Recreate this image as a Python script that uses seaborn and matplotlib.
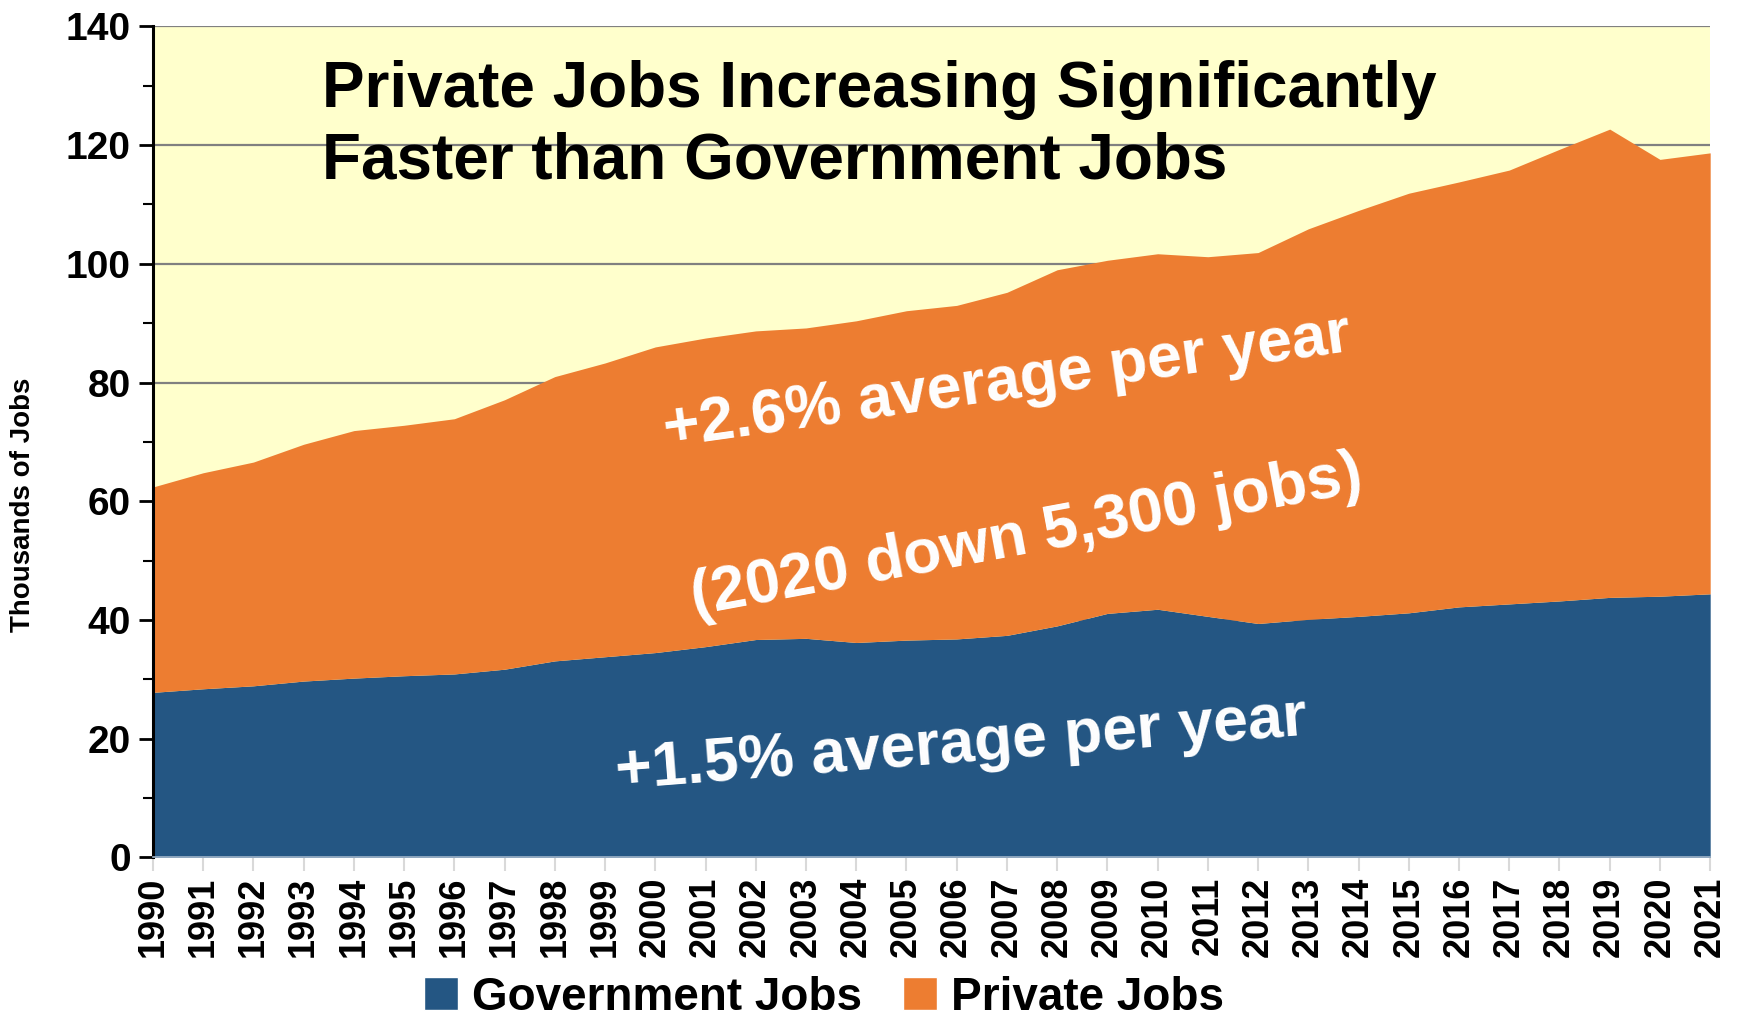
import numpy as np
import pandas as pd
import seaborn as sns
import matplotlib
matplotlib.use("Agg")
import matplotlib.pyplot as plt
from matplotlib.patches import Patch
from matplotlib.ticker import MultipleLocator

years = list(range(1990, 2022))
government_jobs = [27.8, 28.4, 28.9, 29.7, 30.2, 30.6, 30.9, 31.7, 33.1, 33.8,
                   34.5, 35.5, 36.7, 36.9, 36.2, 36.6, 36.8, 37.4, 39.0, 41.1,
                   41.8, 40.6, 39.4, 40.1, 40.6, 41.2, 42.2, 42.7, 43.2, 43.8,
                   44.0, 44.4]
private_jobs = [34.6, 36.4, 37.7, 39.9, 41.7, 42.2, 43.0, 45.4, 47.9, 49.5,
                51.5, 52.0, 52.0, 52.3, 54.2, 55.5, 56.2, 57.8, 60.0, 59.5,
                59.9, 60.6, 62.5, 65.8, 68.4, 70.7, 71.6, 73.1, 76.1, 78.9,
                73.6, 74.3]
y_ticks = [0, 20, 40, 60, 80, 100, 120, 140]
series_names = ["Government Jobs", "Private Jobs"]
title_text = "Private Jobs Increasing Significantly\nFaster than Government Jobs"
ylabel_text = "Thousands of Jobs"
notes = ["+2.6% average per year", "(2020 down 5,300 jobs)", "+1.5% average per year"]

BLUE = "#245683"
ORANGE = "#ED7D31"
YELLOW = "#FFFFCC"

df = pd.DataFrame({"year": years, "gov": government_jobs, "priv": private_jobs})

sns.set_theme(style="white")
plt.rcParams['font.family'] = ['Liberation Sans', 'DejaVu Sans']
plt.rcParams['font.weight'] = 'bold'
plt.rcParams['text.color'] = 'black'
plt.rcParams['xtick.color'] = 'black'
plt.rcParams['ytick.color'] = 'black'
plt.rcParams['xtick.labelcolor'] = 'black'
plt.rcParams['ytick.labelcolor'] = 'black'

fig = plt.figure(figsize=(17.38, 10.17), dpi=100)
ax = fig.add_axes([0.088, 0.157, 0.896, 0.817])
ax.set_facecolor(YELLOW)
ax.set_axisbelow(True)
ax.stackplot(df["year"], df["gov"], df["priv"], colors=[BLUE, ORANGE],
             labels=series_names, zorder=2, linewidth=0)

ax.set_xlim(1990, 2021)
ax.set_ylim(0, 140)
ax.set_yticks(y_ticks)
ax.yaxis.set_minor_locator(MultipleLocator(10))
ax.set_xticks(years)
ax.set_xticklabels([str(y) for y in years], rotation=90, fontsize=26,
                   fontweight='bold', color='black')
ax.set_yticklabels([str(v) for v in y_ticks], fontsize=28, fontweight='bold',
                   color='black')
ax.yaxis.grid(True, which='major', color='#808080', linewidth=1.6)
ax.xaxis.grid(False)

for s in ['top', 'right']:
    ax.spines[s].set_visible(False)
ax.spines['left'].set_color('black')
ax.spines['left'].set_linewidth(2.2)
ax.spines['bottom'].set_color('#9FB3C8')
ax.spines['bottom'].set_linewidth(1.2)

ax.tick_params(axis='y', which='major', direction='out', length=10, width=2, color='black', pad=6, left=True)
ax.tick_params(axis='y', which='minor', direction='out', length=7, width=1.5, color='black', left=True)
ax.tick_params(axis='x', which='major', direction='out', length=10, width=1.5, color='#D9D9D9', pad=4, bottom=True)

fig.text(0.0135, 0.504, ylabel_text, rotation=90, ha='center', va='center',
         fontsize=20, fontweight='bold', color='black')

fig.text(0.185, 0.941, title_text, ha='left', va='top', fontsize=46,
         fontweight='bold', color='black', linespacing=1.25)

ax.text(2007.0, 80.0, notes[0], rotation=8, ha='center', va='center',
        rotation_mode='anchor', fontsize=45, fontweight='bold', color='white', zorder=5)
ax.text(2007.4, 54.0, notes[1], rotation=10.5, ha='center', va='center',
        rotation_mode='anchor', fontsize=45, fontweight='bold', color='white', zorder=5)
ax.text(2006.1, 18.8, notes[2], rotation=4.5, ha='center', va='center',
        rotation_mode='anchor', fontsize=45, fontweight='bold', color='white', zorder=5)

handles = [Patch(facecolor=BLUE, label=series_names[0]),
           Patch(facecolor=ORANGE, label=series_names[1])]
fig.legend(handles=handles, loc='center', bbox_to_anchor=(0.474, 0.019), ncol=2,
           frameon=False, handlelength=0.75, handleheight=0.75,
           handletextpad=0.3, columnspacing=0.9, prop={'weight': 'bold', 'size': 33},
           borderpad=0.05)

fig.savefig("out.png", dpi=100)
